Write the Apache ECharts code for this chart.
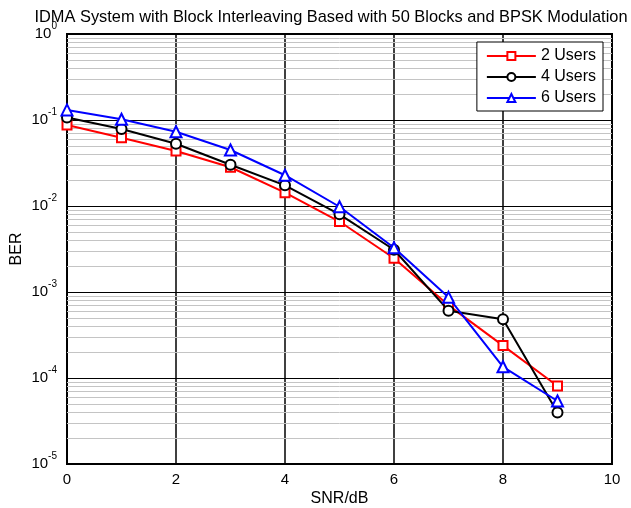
<!DOCTYPE html>
<html>
<head>
<meta charset="utf-8">
<script src="https://cdn.jsdelivr.net/npm/echarts@6/dist/echarts.min.js"></script>
<style>html,body{margin:0;padding:0;background:#fff}#c{width:631px;height:508px}</style>
</head>
<body>
<div id="c"></div>
<script>
var titleText = 'IDMA System with Block Interleaving Based with 50 Blocks and BPSK Modulation';
var snr = [0, 1, 2, 3, 4, 5, 6, 7, 8, 9];
var users2 = [0.0875, 0.0622, 0.0436, 0.0282, 0.0143, 0.0066, 0.00247, 0.00070, 0.000238, 0.0000807];
var users4 = [0.107, 0.0786, 0.0530, 0.0302, 0.0174, 0.0080, 0.0031, 0.000607, 0.000481, 0.0000398];
var users6 = [0.131, 0.102, 0.073, 0.0448, 0.0228, 0.0098, 0.00327, 0.000867, 0.000135, 0.000054];
var seriesNames = ['2 Users', '4 Users', '6 Users'];
var xTicks = [0, 2, 4, 6, 8, 10];
var yDecades = [0, -1, -2, -3, -4, -5];
var minorMantissas = [2, 3, 4, 5, 6, 7, 8, 9];

var FONT = '"Liberation Sans", Arial, sans-serif';
function pairs(ys) { return snr.map(function (x, i) { return [x, ys[i]]; }); }
var minorLines = [];
yDecades.forEach(function (d) {
  if (d === 0) return;
  minorMantissas.forEach(function (m) { minorLines.push({ yAxis: m * Math.pow(10, d) }); });
});

var chart = echarts.init(document.getElementById('c'), null, { renderer: 'canvas' });
chart.setOption({
  animation: false,
  backgroundColor: '#fff',
  title: {
    text: titleText,
    left: 326, top: 4, textAlign: 'center', z: 10,
    textStyle: { fontFamily: FONT, fontSize: 16.4, fontWeight: 'normal', color: '#000' }
  },
  grid: {
    left: 67, right: 19, top: 34, bottom: 44, containLabel: false, outerBoundsMode: 'none',
    show: true, borderColor: '#000', borderWidth: 2, backgroundColor: '#fff', z: 0
  },
  legend: {
    data: seriesNames, z: 20,
    orient: 'vertical', right: 28, top: 42,
    backgroundColor: '#fff', borderColor: '#000', borderWidth: 1,
    padding: [6, 7, 5, 9], itemWidth: 49, itemHeight: 10, itemGap: 5,
    textStyle: { fontFamily: FONT, fontSize: 16, color: '#000' }
  },
  xAxis: {
    type: 'value', min: 0, max: 10, interval: 2,
    name: 'SNR/dB', nameLocation: 'middle', nameGap: 27, nameMoveOverlap: false,
    nameTextStyle: { fontFamily: FONT, fontSize: 16, color: '#000' },
    axisLine: { show: true, lineStyle: { color: '#000', width: 2 } },
    axisTick: { show: false },
    axisLabel: { margin: 8, fontFamily: FONT, fontSize: 15, color: '#000', formatter: function (v) { return xTicks.indexOf(v) >= 0 ? String(v) : ''; } },
    splitLine: { show: true, lineStyle: { color: '#000', width: 1.5 } }
  },
  yAxis: {
    type: 'log', logBase: 10, min: 1e-5, max: 1,
    name: 'BER', nameLocation: 'middle', nameGap: 42, nameRotate: 90, nameMoveOverlap: false,
    nameTextStyle: { fontFamily: FONT, fontSize: 16, color: '#000' },
    axisLine: { show: true, lineStyle: { color: '#000', width: 2 } },
    axisTick: { show: false },
    axisLabel: {
      margin: 10, fontFamily: FONT, color: '#000',
      formatter: function (v) {
        var e = Math.round(Math.log(v) / Math.LN10);
        if (yDecades.indexOf(e) < 0) return '';
        return '{a|10}{b|' + e + '}';
      },
      rich: {
        a: { fontFamily: FONT, fontSize: 15, lineHeight: 26, color: '#000' },
        b: { fontFamily: FONT, fontSize: 10, lineHeight: 10, verticalAlign: 'top', color: '#000' }
      }
    },
    splitLine: { show: true, lineStyle: { color: '#000', width: 1 } }
  },
  series: [
    {
      name: '_minor', type: 'line', data: [], silent: true, z: 1,
      markLine: {
        silent: true, z: 1, symbol: ['none', 'none'], label: { show: false }, precision: 12,
        lineStyle: { color: '#c4c4c4', width: 1, type: 'solid' },
        data: minorLines
      }
    },
    {
      name: seriesNames[0], type: 'line', data: pairs(users2), z: 3,
      symbol: 'emptyRect', symbolSize: 9,
      lineStyle: { color: '#ff0000', width: 2 },
      itemStyle: { color: '#ff0000', borderWidth: 1.5 }
    },
    {
      name: seriesNames[1], type: 'line', data: pairs(users4), z: 4,
      symbol: 'emptyCircle', symbolSize: 10,
      lineStyle: { color: '#000000', width: 2 },
      itemStyle: { color: '#000000', borderWidth: 1.5 }
    },
    {
      name: seriesNames[2], type: 'line', data: pairs(users6), z: 5,
      symbol: 'emptyTriangle', symbolSize: 11,
      lineStyle: { color: '#0000ff', width: 2 },
      itemStyle: { color: '#0000ff', borderWidth: 1.5 }
    }
  ]
});
</script>
</body>
</html>
